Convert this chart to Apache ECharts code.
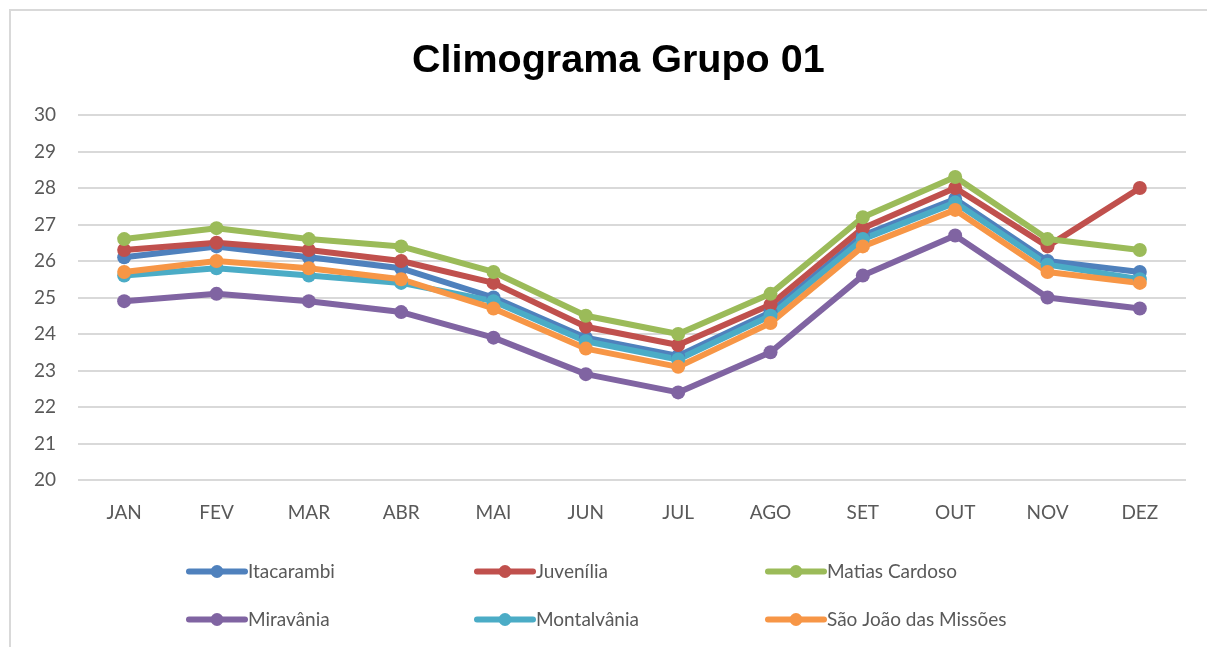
<!DOCTYPE html>
<html>
<head>
<meta charset="utf-8">
<script src="https://cdn.jsdelivr.net/npm/echarts@6/dist/echarts.min.js"></script>
<style>
  html, body { margin: 0; padding: 0; background: #fff; }
  #chart { width: 1207px; height: 647px; }
</style>
</head>
<body>
<div id="chart"></div>
<script>
var months = ['JAN', 'FEV', 'MAR', 'ABR', 'MAI', 'JUN', 'JUL', 'AGO', 'SET', 'OUT', 'NOV', 'DEZ']

var itacarambi = [26.1, 26.4, 26.1, 25.8, 25.0, 23.9, 23.4, 24.6, 26.7, 27.7, 26.0, 25.7]
var juvenilia = [26.3, 26.5, 26.3, 26.0, 25.4, 24.2, 23.7, 24.8, 26.9, 28.0, 26.4, 28.0]
var matiasCardoso = [26.6, 26.9, 26.6, 26.4, 25.7, 24.5, 24.0, 25.1, 27.2, 28.3, 26.6, 26.3]
var miravania = [24.9, 25.1, 24.9, 24.6, 23.9, 22.9, 22.4, 23.5, 25.6, 26.7, 25.0, 24.7]
var montalvania = [25.6, 25.8, 25.6, 25.4, 24.9, 23.8, 23.3, 24.5, 26.6, 27.6, 25.9, 25.5]
var saoJoao = [25.7, 26.0, 25.8, 25.5, 24.7, 23.6, 23.1, 24.3, 26.4, 27.4, 25.7, 25.4]

var names = ['Itacarambi', 'Juvenília', 'Matias Cardoso', 'Miravânia', 'Montalvânia', 'São João das Missões']
var values = [itacarambi, juvenilia, matiasCardoso, miravania, montalvania, saoJoao]
var colors = ['#4F81BD', '#C0504D', '#9BBB59', '#8064A2', '#4BACC6', '#F79646']

var font = 'Lato, "Open Sans", sans-serif'

function makeLegend (left, data) {
  return {
    orient: 'vertical',
    left: left,
    top: 562,
    padding: 0,
    itemWidth: 56,
    itemHeight: 16,
    itemGap: 29,
    data: data,
    lineStyle: { width: 6, cap: 'round' },
    textStyle: { fontFamily: font, fontSize: 19, color: '#595959', padding: [0, 0, 0, -2] }
  }
}

var chart = echarts.init(document.getElementById('chart'))
chart.setOption({
  animation: false,
  color: colors,
  title: {
    text: 'Climograma Grupo 01',
    left: 407,
    top: 36,
    textStyle: { fontFamily: '"Liberation Sans", Arial, sans-serif', fontWeight: 'bold', fontSize: 39.5, color: '#000' }
  },
  graphic: [{
    type: 'rect',
    shape: { x: 10, y: 10, width: 1260, height: 700 },
    style: { fill: 'none', stroke: '#d9d9d9', lineWidth: 2 },
    silent: true
  }],
  legend: [
    makeLegend(186, [names[0], names[3]]),
    makeLegend(474, [names[1], names[4]]),
    makeLegend(765, [names[2], names[5]])
  ],
  grid: { left: 78, right: 21, top: 115, bottom: 167 },
  xAxis: {
    type: 'category',
    data: months,
    boundaryGap: true,
    axisLine: { show: false },
    axisTick: { show: false },
    axisLabel: { fontFamily: font, fontSize: 19, color: '#595959', margin: 23 }
  },
  yAxis: {
    type: 'value',
    min: 20,
    max: 30,
    interval: 1,
    axisLine: { show: false },
    axisTick: { show: false },
    axisLabel: { fontFamily: font, fontSize: 19, color: '#595959', margin: 22 },
    splitLine: { lineStyle: { color: '#d9d9d9', width: 2 } }
  },
  series: names.map(function (n, i) {
    return {
      name: n,
      type: 'line',
      data: values[i],
      symbol: 'circle',
      symbolSize: 14,
      lineStyle: { width: 6 },
      itemStyle: { color: colors[i] }
    }
  })
})
</script>
</body>
</html>
